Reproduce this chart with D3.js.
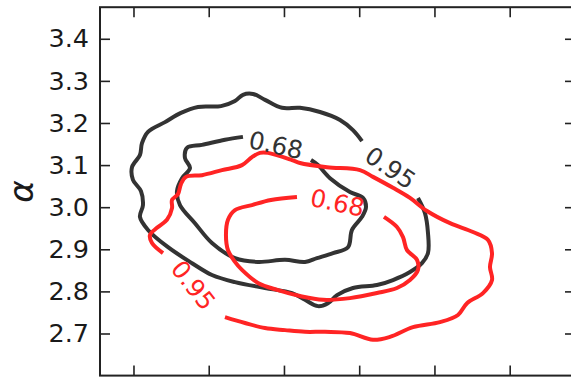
<!DOCTYPE html>
<html>
<head>
<meta charset="utf-8">
<script src="https://cdn.jsdelivr.net/npm/d3@7"></script>
<style>
  html, body { margin: 0; padding: 0; background: #fff; }
  svg { display: block; font-family: "DejaVu Sans", sans-serif; }
</style>
</head>
<body>
<svg id="chart" width="571" height="378"></svg>
<script>
// Parameter ranges and ticks
const xDomain = [0.555, 6.868];
const yDomain = [2.6, 3.475];
const xTicks = [1, 2, 3, 4, 5, 6];
const yTicks = [2.7, 2.8, 2.9, 3.0, 3.1, 3.2, 3.3, 3.4];
const yTickLabels = ["2.7", "2.8", "2.9", "3.0", "3.1", "3.2", "3.3", "3.4"];

// Confidence contours, traced as [x, alpha] vertices
const blackOuter95 = [
  [4.037,3.157],[3.917,3.183],[3.745,3.207],[3.479,3.226],[3.213,3.236],[2.974,3.236],
  [2.748,3.255],[2.588,3.269],[2.455,3.267],[2.349,3.252],[2.163,3.240],[1.857,3.238],
  [1.631,3.224],[1.419,3.202],[1.193,3.179],[1.113,3.152],[1.086,3.124],[0.980,3.095],
  [0.993,3.065],[1.100,3.038],[1.126,3.005],[1.086,2.977],[1.193,2.946],[1.459,2.905],
  [1.778,2.867],[2.043,2.839],[2.349,2.822],[2.748,2.808],[3.107,2.796],[3.279,2.780],
  [3.452,2.765],[3.585,2.772],[3.705,2.791],[3.917,2.808],[4.236,2.815],[4.449,2.827],
  [4.675,2.846],[4.834,2.867],[4.914,2.891],[4.914,2.939],[4.874,2.986],[4.781,3.022]
];
const blackInner68 = [
  [2.455,3.167],[2.216,3.160],[1.910,3.148],[1.711,3.141],[1.684,3.117],[1.751,3.093],
  [1.645,3.069],[1.578,3.038],[1.618,3.005],[1.817,2.962],[2.043,2.915],[2.349,2.879],
  [2.655,2.870],[3.014,2.875],[3.279,2.870],[3.439,2.879],[3.652,2.891],[3.851,2.905],
  [3.904,2.946],[4.037,2.977],[4.090,3.000],[4.050,3.022],[3.877,3.036],[3.612,3.069],
  [3.452,3.100],[3.359,3.112]
];
const redOuter95 = [
  [1.392,2.891],[1.246,2.915],[1.219,2.934],[1.312,2.951],[1.445,2.970],[1.512,2.998],
  [1.512,3.017],[1.591,3.031],[1.631,3.055],[1.698,3.072],[1.910,3.076],[2.176,3.088],
  [2.442,3.100],[2.575,3.119],[2.681,3.129],[2.788,3.129],[3.107,3.112],[3.213,3.105],
  [3.572,3.095],[4.010,3.088],[4.183,3.072],[4.449,3.046],[4.675,3.022],[4.901,2.991],
  [5.207,2.962],[5.512,2.941],[5.712,2.922],[5.765,2.891],[5.738,2.858],[5.765,2.827],
  [5.645,2.796],[5.433,2.772],[5.313,2.744],[5.074,2.727],[4.715,2.715],[4.409,2.692],
  [4.183,2.685],[3.877,2.701],[3.545,2.704],[3.279,2.704],[3.014,2.708],[2.748,2.713],
  [2.482,2.725],[2.216,2.739]
];
const redInner68 = [
  [3.173,3.024],[2.827,3.017],[2.575,3.005],[2.349,2.993],[2.256,2.970],[2.229,2.934],
  [2.256,2.898],[2.349,2.870],[2.442,2.851],[2.655,2.820],[2.921,2.803],[3.213,2.789],
  [3.519,2.780],[3.877,2.784],[4.236,2.796],[4.502,2.808],[4.675,2.827],[4.781,2.851],
  [4.768,2.875],[4.635,2.898],[4.582,2.929],[4.502,2.953],[4.329,2.977]
];

// Inline contour labels: text, position, angle
const contourLabels = [
  { text: "0.68", x: 2.894, y: 3.148, angle: 12, group: "black" },
  { text: "0.95", x: 4.416, y: 3.094, angle: 34, group: "black" },
  { text: "0.68", x: 3.711, y: 3.011, angle: 12, group: "red" },
  { text: "0.95", x: 1.797, y: 2.815, angle: 52, group: "red" }
];

const colors = { black: "#333333", red: "#ff2424" };

const plotLeft = 100, plotRight = 575, plotTop = 7.2, plotBottom = 375.6;
const x = d3.scaleLinear().domain(xDomain).range([plotLeft, plotRight]);
const y = d3.scaleLinear().domain(yDomain).range([plotBottom, plotTop]);

const svg = d3.select("#chart");

const line = d3.line()
  .x(d => x(d[0]))
  .y(d => y(d[1]))
  .curve(d3.curveCatmullRom.alpha(0.5));

const contours = [
  { pts: blackOuter95, group: "black" },
  { pts: blackInner68, group: "black" },
  { pts: redOuter95, group: "red" },
  { pts: redInner68, group: "red" }
];

svg.append("g")
  .selectAll("path")
  .data(contours)
  .join("path")
  .attr("d", d => line(d.pts))
  .attr("fill", "none")
  .attr("stroke", d => colors[d.group])
  .attr("stroke-width", 4)
  .attr("stroke-linejoin", "round")
  .attr("stroke-linecap", "butt");

svg.append("g")
  .selectAll("text")
  .data(contourLabels)
  .join("text")
  .attr("transform", d => `translate(${x(d.x)},${y(d.y)}) rotate(${d.angle})`)
  .attr("text-anchor", "middle")
  .attr("dy", "0.36em")
  .attr("font-size", 24.5)
  .attr("fill", d => colors[d.group])
  .text(d => d.text);

// Axes: ticks point inward on all four sides
const tickLen = 10;
const axisColor = "#222";

const yAxis = svg.append("g")
  .attr("transform", `translate(${plotLeft},0)`)
  .call(d3.axisLeft(y).tickValues(yTicks)
    .tickFormat((d, i) => yTickLabels[i])
    .tickSize(-tickLen).tickPadding(11));
yAxis.select(".domain").remove();
yAxis.selectAll("line").attr("stroke", axisColor).attr("stroke-width", 1.6);
yAxis.selectAll("text").attr("font-size", 25.5).attr("fill", "#1a1a1a")
  .attr("font-family", "DejaVu Sans, sans-serif");

const yAxisR = svg.append("g")
  .attr("transform", `translate(${plotRight},0)`)
  .call(d3.axisRight(y).tickValues(yTicks).tickFormat("").tickSize(-tickLen));
yAxisR.select(".domain").remove();
yAxisR.selectAll("line").attr("stroke", axisColor).attr("stroke-width", 1.6);

const xAxisB = svg.append("g")
  .attr("transform", `translate(0,${plotBottom})`)
  .call(d3.axisBottom(x).tickValues(xTicks).tickFormat("").tickSize(-tickLen));
xAxisB.select(".domain").remove();
xAxisB.selectAll("line").attr("stroke", axisColor).attr("stroke-width", 1.6);

const xAxisT = svg.append("g")
  .attr("transform", `translate(0,${plotTop})`)
  .call(d3.axisTop(x).tickValues(xTicks).tickFormat("").tickSize(-tickLen));
xAxisT.select(".domain").remove();
xAxisT.selectAll("line").attr("stroke", axisColor).attr("stroke-width", 1.6);

// Plot frame
svg.append("rect")
  .attr("x", plotLeft).attr("y", plotTop)
  .attr("width", plotRight - plotLeft).attr("height", plotBottom - plotTop)
  .attr("fill", "none")
  .attr("stroke", axisColor)
  .attr("stroke-width", 2);

// Y axis title
svg.append("text")
  .attr("transform", "translate(22.5,191.5) rotate(-90)")
  .attr("text-anchor", "middle")
  .attr("dy", "0.3em")
  .attr("font-size", 34)
  .attr("font-style", "italic")
  .attr("fill", "#1a1a1a")
  .text("α");
</script>
</body>
</html>
